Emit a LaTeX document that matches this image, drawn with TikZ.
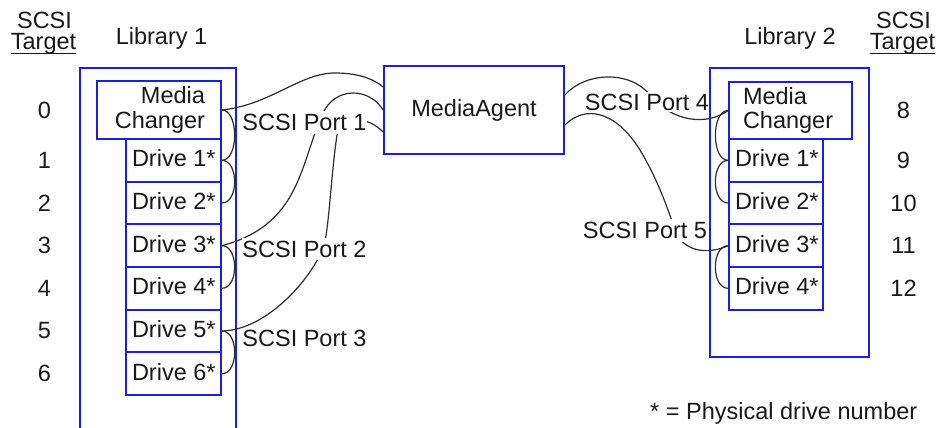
\documentclass[tikz,border=0pt]{standalone}
\usepackage{fontspec}
\setmainfont{Liberation Sans}
\usetikzlibrary{calc}
\definecolor{libblue}{RGB}{30,30,225}
\definecolor{cablecol}{RGB}{45,45,45}
\definecolor{txt}{RGB}{25,25,25}
\begin{document}
\begin{tikzpicture}[x=1pt,y=-1pt,
  every node/.style={font=\fontsize{23.5}{24.5}\selectfont, text=txt, inner sep=0pt},
  bluebox/.style={draw=libblue, line width=1.8pt},
  changer/.style={bluebox, minimum width=124pt, minimum height=58pt},
  drivebox/.style={bluebox, minimum width=95pt, minimum height=42.67pt, text height=17pt, text depth=4pt},
  rdrivebox/.style={drivebox, minimum width=94pt},
  cable/.style={draw=cablecol, line width=1.2pt},
  portlabel/.style={fill=white, inner xsep=0.5pt, inner ysep=3pt},
  uline/.style={draw=txt, line width=1.3pt}
]
\useasboundingbox (0,0) rectangle (940,428);

% headers
\node[anchor=base] (sl) at (44.5,29) {SCSI};
\node[anchor=base] (tl) at (43.5,50) {Target};
\draw[uline] ($(tl.base west)+(0,3.3)$) -- ($(tl.base east)+(0,3.3)$);
\node[anchor=base] (sr) at (903.5,29) {SCSI};
\node[anchor=base] (tr) at (902.5,50) {Target};
\draw[uline] ($(tr.base west)+(0,3.3)$) -- ($(tr.base east)+(0,3.3)$);
\node[anchor=base] (lib1t) at (161.5,45) {Library 1};
\node[anchor=base] (lib2t) at (790,45) {Library 2};

% library 1 frame (open at the bottom)
\draw[bluebox] (80,428.9) -- (80,68) -- (236,68) -- (236,428.9);

% library 1 units
\node[changer, text width=92pt, align=right] (mc1) at (159,110) {Media\\Changer};
\node[drivebox] (d1) at (173.5,160.33) {\makebox[83pt][l]{Drive 1*}};
\node[drivebox] (d2) at (173.5,203) {\makebox[83pt][l]{Drive 2*}};
\node[drivebox] (d3) at (173.5,245.67) {\makebox[83pt][l]{Drive 3*}};
\node[drivebox] (d4) at (173.5,288.33) {\makebox[83pt][l]{Drive 4*}};
\node[drivebox] (d5) at (173.5,331) {\makebox[83pt][l]{Drive 5*}};
\node[drivebox] (d6) at (173.5,373.67) {\makebox[83pt][l]{Drive 6*}};

% media agent
\node[bluebox, minimum width=180pt, minimum height=88pt] (ma) at (474,110) {MediaAgent};

% library 2 units
\node[changer, minimum width=123pt, minimum height=57pt, text width=95pt, align=left] (mc2) at (790.5,110.5) {Media\\Changer};
\node[rdrivebox] (e1) at (776,160.33) {\makebox[82pt][l]{Drive 1*}};
\node[rdrivebox] (e2) at (776,203) {\makebox[82pt][l]{Drive 2*}};
\node[rdrivebox] (e3) at (776,245.67) {\makebox[82pt][l]{Drive 3*}};
\node[rdrivebox] (e4) at (776,288.33) {\makebox[82pt][l]{Drive 4*}};

% SCSI target numbers
\node (n0) at (44.5,0 |- mc1) {0};
\node (n1) at (44.5,0 |- d1) {1};
\node (n2) at (44.5,0 |- d2) {2};
\node (n3) at (44.5,0 |- d3) {3};
\node (n4) at (44.5,0 |- d4) {4};
\node (n5) at (44.5,0 |- d5) {5};
\node (n6) at (44.5,0 |- d6) {6};
\node (n8) at (903.5,0 |- mc2) {8};
\node (n9) at (903.5,0 |- e1) {9};
\node (n10) at (903.5,0 |- e2) {10};
\node (n11) at (903.5,0 |- e3) {11};
\node (n12) at (903.5,0 |- e4) {12};

% daisy chains, library 1
\draw[cable] (mc1.east) .. controls +(17,0) and +(17,0) .. (d1.east);
\draw[cable] (d1.east) .. controls +(17,0) and +(17,0) .. (d2.east);
\draw[cable] (d3.east) .. controls +(17,0) and +(17,0) .. (d4.east);
\draw[cable] (d5.east) .. controls +(17,0) and +(17,0) .. (d6.east);
% daisy chains, library 2
\draw[cable] (mc2.west) .. controls +(-17,0) and +(-17,0) .. (e1.west);
\draw[cable] (e1.west) .. controls +(-17,0) and +(-17,0) .. (e2.west);
\draw[cable] (e3.west) .. controls +(-17,0) and +(-17,0) .. (e4.west);

% SCSI port cables
\draw[cable] (mc1.east) .. controls (270,105) and (300,73) .. (335,73) .. controls (360,73) and (375,80) .. ($(ma.west)+(0,-23)$);
\draw[cable] (ma.west) .. controls (370,88) and (335,85) .. (322,115) .. controls (300,165) and (300,225) .. (d3.east);
\draw[cable] ($(ma.west)+(0,22)$) .. controls (370,118) and (342,112) .. (337,135) .. controls (331,175) and (329,228) .. (324,245) .. controls (316,272) and (270,330) .. (d5.east);
\draw[cable] ($(ma.east)+(0,-15)$) .. controls (585,72) and (630,70) .. (650,95) .. controls (665,115) and (700,130) .. (mc2.west);
\draw[cable] ($(ma.east)+(0,15)$) .. controls (585,105) and (615,110) .. (640,150) .. controls (655,175) and (665,200) .. (675,230) .. controls (682,250) and (705,256) .. (e3.west);

% port labels
\node[portlabel] (p1) at (304.5,122.5) {SCSI Port 1};
\node[portlabel] (p2) at (304.5,249) {SCSI Port 2};
\node (p3) at (304.5,338) {SCSI Port 3};
\node[portlabel, inner ysep=1.5pt] (p4) at (647,102) {SCSI Port 4};
\node[portlabel] (p5) at (645,230.5) {SCSI Port 5};

% library 2 frame
\draw[bluebox] (710,68) rectangle (869,357);

% footnote
\node[anchor=base west] (fn) at (650,419) {* = Physical drive number};
\end{tikzpicture}
\end{document}
